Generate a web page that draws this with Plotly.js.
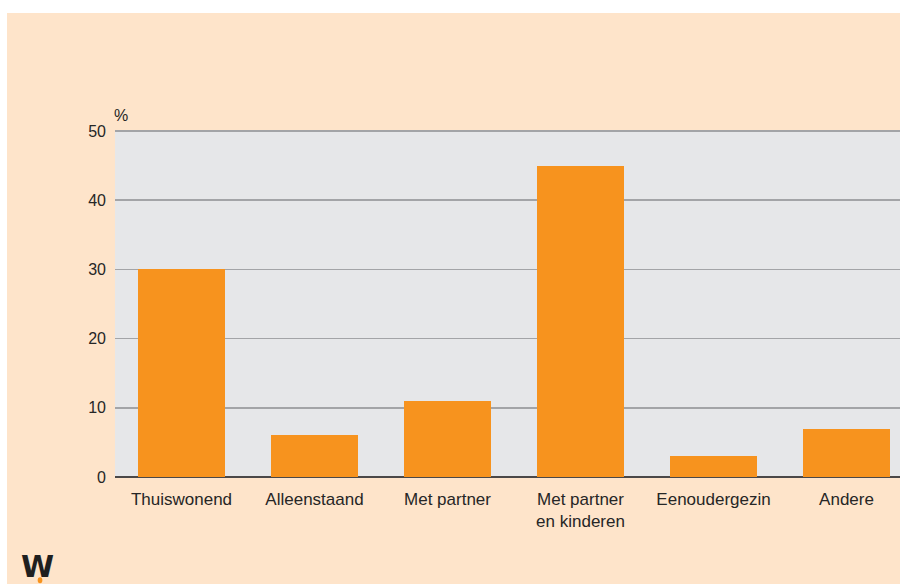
<!DOCTYPE html>
<html>
<head>
<meta charset="utf-8">
<script src="https://cdn.plot.ly/plotly-3.0.1.min.js"></script>
<style>
  html, body { margin: 0; padding: 0; background: #ffffff; width: 900px; height: 584px; overflow: hidden; }
  #chart { position: absolute; left: 7px; top: 13px; width: 893px; height: 571px; }
</style>
</head>
<body>
<div id="chart"></div>
<script>
const categories = ["Thuiswonend", "Alleenstaand", "Met partner", "Met partner<br>en kinderen", "Eenoudergezin", "Andere"];
const values = [30, 6, 11, 45, 3, 7];
const yTicks = [0, 10, 20, 30, 40, 50];
const yUnit = "%";

const trace = {
  type: "bar",
  x: categories.map((c, i) => i),
  y: values,
  width: 0.654,
  marker: { color: "#F7931E", line: { width: 0 } },
  hoverinfo: "y"
};

const layout = {
  width: 893,
  height: 571,
  margin: { l: 108, r: 0, t: 117, b: 107, pad: 0 },
  paper_bgcolor: "#FEE4CA",
  plot_bgcolor: "#E6E7E9",
  showlegend: false,
  bargap: 0,
  font: { family: "Liberation Sans, Arial, sans-serif", color: "#262626" },
  xaxis: {
    type: "linear",
    range: [-0.5, 5.402],
    tickmode: "array",
    tickvals: categories.map((c, i) => i),
    ticktext: categories,
    showgrid: false,
    zeroline: false,
    showline: false,
    ticks: "",
    tickfont: { size: 17, color: "#262626" },
    ticklabelstandoff: 10,
    fixedrange: true
  },
  yaxis: {
    range: [0, 50.15],
    tickmode: "array",
    tickvals: yTicks,
    ticktext: yTicks.map(String),
    showgrid: true,
    gridcolor: "#A3A4A7",
    gridwidth: 1.6,
    zeroline: true,
    zerolinecolor: "#4A4848",
    zerolinewidth: 2.2,
    showline: false,
    ticks: "",
    ticklabelstandoff: 8,
    tickfont: { size: 16, color: "#262626" },
    fixedrange: true
  },
  shapes: [
    {
      type: "circle", xref: "paper", yref: "paper",
      x0: -0.0985, x1: -0.0925, y0: -0.3064, y1: -0.289,
      fillcolor: "#F7931E", line: { width: 0 }, layer: "above"
    }
  ],
  annotations: [
    {
      text: yUnit, xref: "paper", yref: "paper", x: 0, y: 1,
      xanchor: "left", yanchor: "bottom", xshift: -3, yshift: 4,
      showarrow: false, font: { size: 16, color: "#262626" }
    },
    {
      text: "<b>W</b>", xref: "paper", yref: "paper", x: -0.1223, y: -0.2023,
      xanchor: "left", yanchor: "top",
      showarrow: false, font: { family: "DejaVu Sans", size: 30, color: "#1f1f1f" }
    }
  ]
};

Plotly.newPlot("chart", [trace], layout, { displayModeBar: false, staticPlot: true });
</script>
</body>
</html>
